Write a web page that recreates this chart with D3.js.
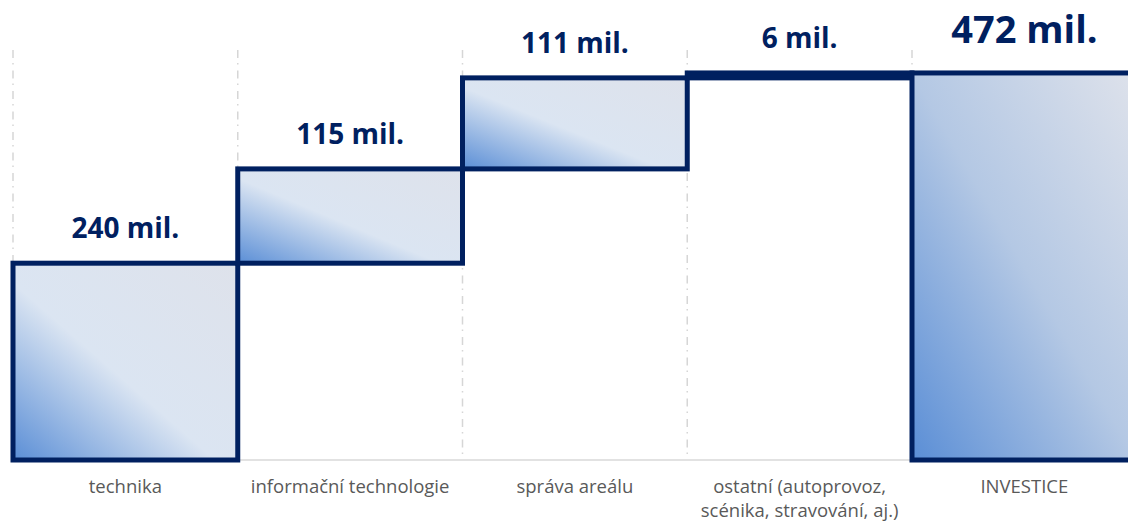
<!DOCTYPE html>
<html lang="cs">
	<head>
		<meta charset="utf-8">
		<title>Investice</title>
		<script src="https://d3js.org/d3.v7.min.js"></script>
		<style>
			body { margin: 0; background: #fff; }
			svg { display: block; }
		</style>
	</head>
	<body>
		<script>

			// Data
			var categories = ["technika", "informační technologie", "správa areálu",
			                  "ostatní (autoprovoz,\nscénika, stravování, aj.)", "INVESTICE"];
			var values = [240, 115, 111, 6, 472];
			var isTotal = [false, false, false, false, true];
			var valueLabels = ["240 mil.", "115 mil.", "111 mil.", "6 mil.", "472 mil."];
			var axisMax = 500;

			var w = 1128, h = 523;
			var navy = "#002060";

			// build waterfall steps
			var running = 0;
			var steps = categories.map(function(c, i) {
				var start = isTotal[i] ? 0 : running;
				var end = isTotal[i] ? values[i] : running + values[i];
				if (!isTotal[i]) running = end;
				return { cat: c, start: start, end: end, total: isTotal[i], label: valueLabels[i] };
			});

			var xScale = d3.scaleBand()
				.domain(categories)
				.range([13, 13 + 224.75 * categories.length])
				.padding(0);

			var yScale = d3.scaleLinear()
				.domain([0, axisMax])
				.range([460, 50]);

			var svg = d3.select("body").append("svg")
				.attr("width", w)
				.attr("height", h);

			// gradients
			var defs = svg.append("defs");
			var g1 = defs.append("linearGradient").attr("id", "gStep")
				.attr("x1", 0).attr("y1", 1).attr("x2", 1).attr("y2", 0);
			g1.append("stop").attr("offset", "0").attr("stop-color", "#5a8ed6");
			g1.append("stop").attr("offset", "0.45").attr("stop-color", "#dbe5f2");
			g1.append("stop").attr("offset", "1").attr("stop-color", "#dee2eb");

			var g2 = defs.append("linearGradient").attr("id", "gTotal")
				.attr("x1", 0).attr("y1", 1).attr("x2", 1).attr("y2", 0);
			g2.append("stop").attr("offset", "0").attr("stop-color", "#5a8ed6");
			g2.append("stop").attr("offset", "0.5").attr("stop-color", "#b4c8e4");
			g2.append("stop").attr("offset", "1").attr("stop-color", "#dee2eb");

			// vertical dash-dot gridlines at category boundaries
			svg.selectAll("line.grid")
				.data(categories)
				.enter()
				.append("line")
				.attr("class", "grid")
				.attr("x1", function(d) { return xScale(d); })
				.attr("x2", function(d) { return xScale(d); })
				.attr("y1", yScale(axisMax))
				.attr("y2", yScale(0))
				.attr("stroke", "#d6d6d6")
				.attr("stroke-width", 1.5)
				.attr("stroke-dasharray", "8,5,1.5,6");

			// baseline
			svg.append("line")
				.attr("x1", xScale.range()[0])
				.attr("x2", w)
				.attr("y1", yScale(0))
				.attr("y2", yScale(0))
				.attr("stroke", "#d9d9d9")
				.attr("stroke-width", 1.5);

			// bars
			svg.selectAll("rect.bar")
				.data(steps)
				.enter()
				.append("rect")
				.attr("class", "bar")
				.attr("x", function(d) { return xScale(d.cat); })
				.attr("width", xScale.bandwidth())
				.attr("y", function(d) { return yScale(d.end); })
				.attr("height", function(d) { return yScale(d.start) - yScale(d.end); })
				.attr("fill", function(d) { return d.total ? "url(#gTotal)" : "url(#gStep)"; })
				.attr("stroke", navy)
				.attr("stroke-width", 5);

			// value labels
			svg.selectAll("text.val")
				.data(steps)
				.enter()
				.append("text")
				.attr("class", "val")
				.text(function(d) { return d.label; })
				.attr("x", function(d) { return xScale(d.cat) + xScale.bandwidth() / 2; })
				.attr("y", function(d) { return yScale(d.end) - (d.total ? 30 : 25); })
				.attr("text-anchor", "middle")
				.attr("font-family", "'Open Sans', sans-serif")
				.attr("font-weight", "bold")
				.attr("font-size", function(d) { return d.total ? "38px" : "28px"; })
				.attr("fill", navy);

			// category labels
			var cat = svg.selectAll("text.cat")
				.data(categories)
				.enter()
				.append("text")
				.attr("class", "cat")
				.attr("x", function(d) { return xScale(d) + xScale.bandwidth() / 2; })
				.attr("y", 493)
				.attr("text-anchor", "middle")
				.attr("font-family", "'Open Sans', sans-serif")
				.attr("font-size", "18.5px")
				.attr("fill", "#595959");

			cat.selectAll("tspan")
				.data(function(d) { return d.split("\n"); })
				.enter()
				.append("tspan")
				.attr("x", function() { return d3.select(this.parentNode).attr("x"); })
				.attr("dy", function(d, i) { return i === 0 ? 0 : 24; })
				.text(function(d) { return d; });

		</script>
	</body>
</html>
